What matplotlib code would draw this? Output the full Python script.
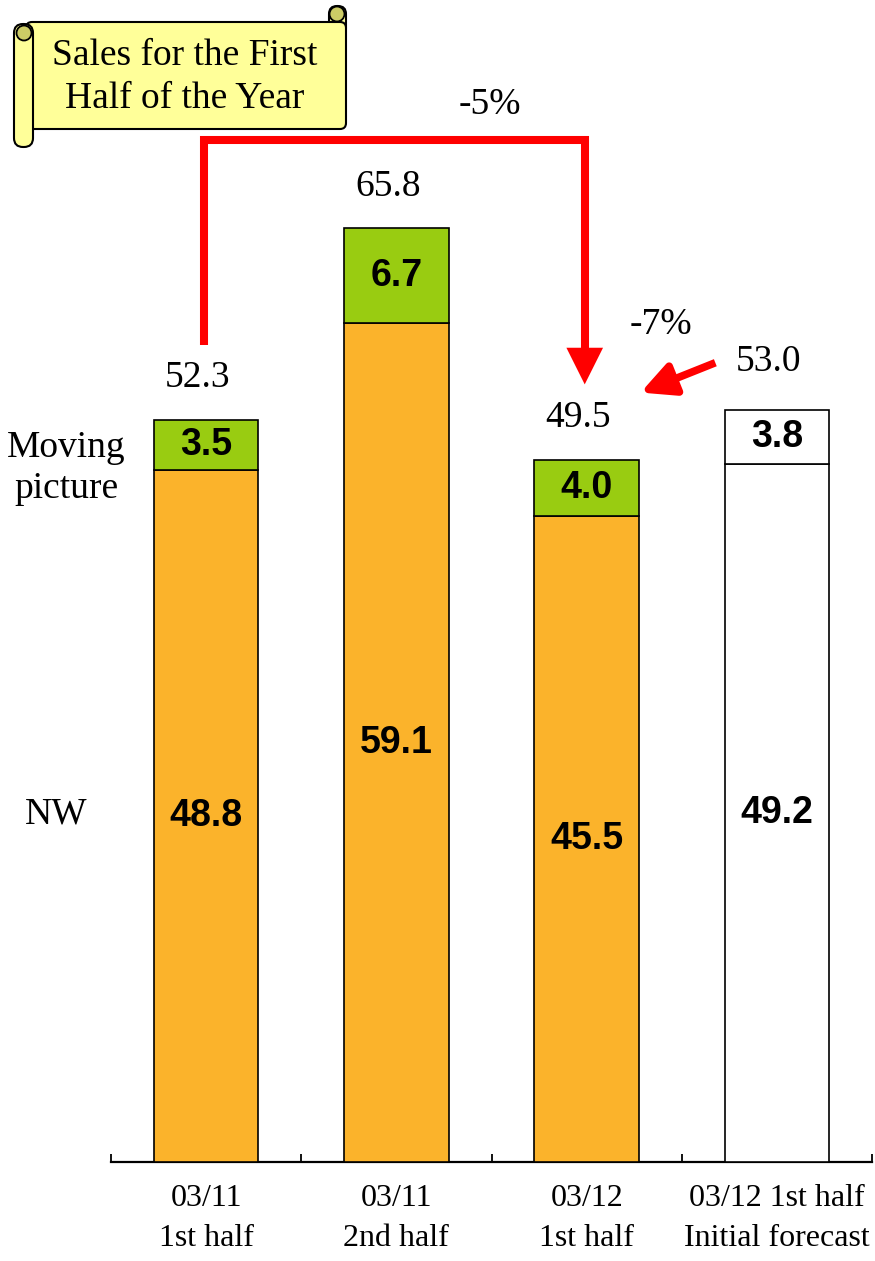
import matplotlib
matplotlib.use("Agg")
import matplotlib.pyplot as plt
from matplotlib.patches import FancyArrowPatch, FancyBboxPatch, Circle, ArrowStyle
from matplotlib.path import Path

# ---- data ----
categories = ["03/11\n1st half", "03/11\n2nd half", "03/12\n1st half", "03/12 1st half\nInitial forecast"]
nw_values = [48.8, 59.1, 45.5, 49.2]
movie_values = [3.5, 6.7, 4.0, 3.8]
totals = [52.3, 65.8, 49.5, 53.0]
is_forecast = [False, False, False, True]
change_labels = ["-5%", "-7%"]
banner_text = "Sales for the First\nHalf of the Year"

SERIF = "Liberation Serif"
SANS = "Liberation Sans"
ORANGE = "#FBB32B"
GREEN = "#99CC11"
RED = "#FF0000"

W, H = 875, 1261
fig = plt.figure(figsize=(W / 100, H / 100), dpi=100)
base_px = 1162
ax = fig.add_axes([111 / W, (H - base_px) / H, 761 / W, base_px / H])
px_per_unit = 14.19
ax.set_ylim(0, base_px / px_per_unit)
ax.set_xlim(-0.5, 3.5)

x = list(range(len(categories)))
bw = 0.55
nw_colors = ["white" if f else ORANGE for f in is_forecast]
mv_colors = ["white" if f else GREEN for f in is_forecast]
ax.bar(x, nw_values, width=bw, color=nw_colors, edgecolor="black", linewidth=1.2, zorder=3)
ax.bar(x, movie_values, bottom=nw_values, width=bw, color=mv_colors, edgecolor="black", linewidth=1.2, zorder=3)

for i in x:
    ax.text(i, nw_values[i] / 2, f"{nw_values[i]:.1f}", ha="center", va="center",
            fontsize=27, fontweight="bold", family=SANS, zorder=4)
    ax.text(i, nw_values[i] + movie_values[i] / 2, f"{movie_values[i]:.1f}", ha="center", va="center",
            fontsize=27, fontweight="bold", family=SANS, zorder=4)
    dx = -6
    dy = 35 if is_forecast[i] else 30
    ax.annotate(f"{totals[i]:.1f}", xy=(i, totals[i]), xytext=(dx, dy), textcoords="offset points",
                ha="center", va="center", fontsize=27, family=SERIF)

# axis styling
for s in ["left", "top", "right"]:
    ax.spines[s].set_visible(False)
ax.spines["bottom"].set_linewidth(1.6)
ax.set_yticks([])
ax.set_xticks([i - 0.5 for i in range(len(categories) + 1)])
ax.set_xticklabels([])
ax.tick_params(axis="x", which="major", direction="in", length=6, width=1.3)
ax.set_xticks(x, minor=True)
ax.set_xticklabels(categories, minor=True, fontsize=23, family=SERIF, linespacing=1.5)
ax.tick_params(axis="x", which="minor", length=0, pad=16)

# side labels
ax.text(-0.735, 48.9, "Moving\npicture", ha="center", va="center", fontsize=27, family=SERIF,
        linespacing=1.27)
ax.text(-0.79, 24.5, "NW", ha="center", va="center", fontsize=27, family=SERIF)

# -5% arrow: from above bar 0 to above bar 2
y_top = 72.0
verts = [(0 - 0.01, 57.6), (0 - 0.01, y_top), (2 - 0.01, y_top), (2 - 0.01, 54.8)]
path = Path(verts, [Path.MOVETO, Path.LINETO, Path.LINETO, Path.LINETO])
arr = FancyArrowPatch(path=path, arrowstyle=ArrowStyle("-|>", head_length=17, head_width=8.5),
                      mutation_scale=1, color=RED, linewidth=5.8, joinstyle="miter",
                      capstyle="butt", transform=ax.transData, clip_on=False, zorder=5)
ax.add_patch(arr)
ax.text(1.49, 74.5, change_labels[0], ha="center", va="center", fontsize=27, family=SERIF)

# -7% arrow: from forecast total toward actual
arr2 = FancyArrowPatch((2.69, 56.4), (2.27, 54.15),
                       arrowstyle=ArrowStyle("-|>", head_length=20, head_width=10),
                       mutation_scale=1, color=RED, linewidth=5.5, capstyle="butt",
                       transform=ax.transData, clip_on=False, zorder=5)
ax.add_patch(arr2)
ax.text(2.39, 59.0, change_labels[1], ha="center", va="center", fontsize=27, family=SERIF)

# banner scroll (overlay axes in pixel coordinates)
ov = fig.add_axes([0, 0, 1, 1], zorder=10)
ov.set_xlim(0, W)
ov.set_ylim(H, 0)
ov.axis("off")
ov.patch.set_alpha(0)
YEL = "#FFFF99"
DARK = "#CCCC66"
ov.add_patch(FancyBboxPatch((329, 6), 17, 30, boxstyle="round,pad=0,rounding_size=8",
                            fc=YEL, ec="black", lw=1.5))
ov.add_patch(FancyBboxPatch((26, 22), 320, 107, boxstyle="round,pad=0,rounding_size=6",
                            fc=YEL, ec="black", lw=1.5))
ov.add_patch(FancyBboxPatch((14, 24), 19, 123, boxstyle="round,pad=0,rounding_size=9",
                            fc=YEL, ec="black", lw=1.5))
ov.add_patch(Circle((24, 33), 7.5, fc=DARK, ec="black", lw=1.3))
ov.add_patch(Circle((337, 14), 7.5, fc=DARK, ec="black", lw=1.3))
ov.text(185, 77, banner_text, ha="center", va="center", fontsize=27, family=SERIF, linespacing=1.33)

fig.savefig("out.png", dpi=100)
